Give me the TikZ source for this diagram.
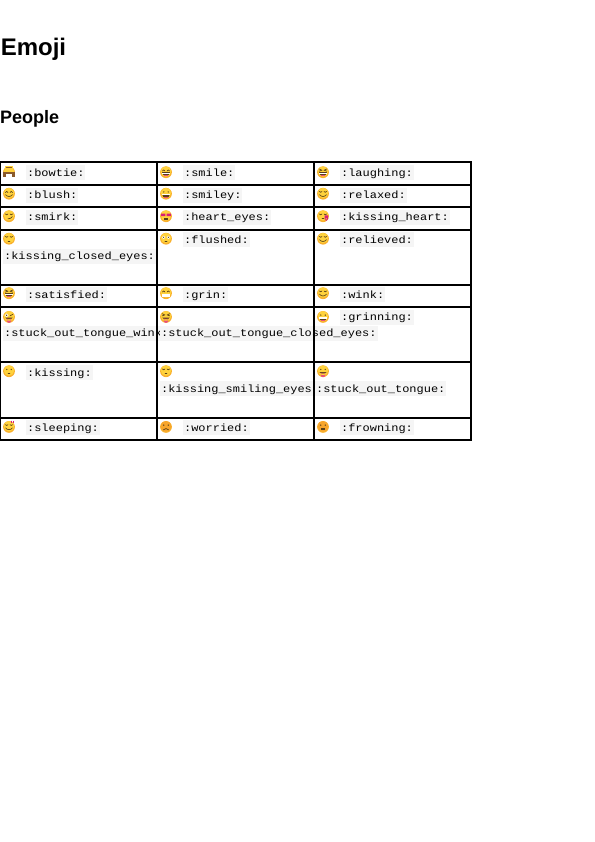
\documentclass[tikz,border=0pt]{standalone}
\usepackage{fontspec}
\setmainfont{Liberation Sans}
\newfontfamily\codefont[FakeStretch=1.14]{Liberation Mono}
\definecolor{codebg}{HTML}{F5F5F5}
\definecolor{faceY}{HTML}{FFD23C}
\definecolor{faceO}{HTML}{F9B02C}
\definecolor{faceD}{HTML}{F7A52B}
\definecolor{ink}{HTML}{5A4018}
\definecolor{tng}{HTML}{E8507A}
\definecolor{hrt}{HTML}{D81E78}
\definecolor{brn}{HTML}{8A5A2B}
\tikzset{
  x=1bp,y=-1bp,
  gridline/.style={line width=1.7bp,black,line cap=rect},
  code/.style={anchor=west,fill=codebg,inner xsep=0.9bp,inner ysep=0pt,text height=11bp,text depth=4bp,font=\codefont\fontsize{10.5bp}{12bp}\selectfont,text=black},
  h1/.style={anchor=base west,inner sep=0pt,font=\bfseries\fontsize{24bp}{28bp}\selectfont},
  h2/.style={anchor=base west,inner sep=0pt,font=\bfseries\fontsize{18bp}{21bp}\selectfont},
  feat/.style={ink,line width=0.65bp,line cap=round},
}
% face base and features, all in local pixels round the centre
\newcommand{\emo}[4][faceY]{\begin{scope}[shift={(#2,#3)}]
  \fill[faceO] (0,0.2) circle (5.9);
  \fill[#1] (0,-0.5) circle (5.2);
  #4
\end{scope}}
\newcommand{\arceyes}{\draw[feat] (-3.6,-1) .. controls (-2.8,-2.4) and (-1.8,-2.4) .. (-1,-1);
  \draw[feat] (1,-1) .. controls (1.8,-2.4) and (2.8,-2.4) .. (3.6,-1);}
\newcommand{\downeyes}{\draw[feat] (-3.6,-2) .. controls (-2.8,-1) and (-1.8,-1) .. (-1,-2);
  \draw[feat] (1,-2) .. controls (1.8,-1) and (2.8,-1) .. (3.6,-2);}
\newcommand{\doteyes}{\fill[ink] (-2.2,-1.6) circle (0.7) (2.2,-1.6) circle (0.7);}
\newcommand{\squeeze}{\draw[feat] (-3.8,-3) -- (-1.2,-1.8) -- (-3.8,-0.8);
  \draw[feat] (3.8,-3) -- (1.2,-1.8) -- (3.8,-0.8);}
\newcommand{\openm}{\fill[ink] (-4.4,0.4) -- (4.4,0.4) .. controls (4.4,5) and (-4.4,5) .. (-4.4,0.4) -- cycle;
  \fill[white] (-3.9,0.6) rectangle (3.9,1.8);\fill[tng] (-1.8,3) rectangle (1.8,3.6);}
\newcommand{\smilem}{\draw[feat] (-3.4,1.2) .. controls (-1.6,3.6) and (1.6,3.6) .. (3.4,1.2);}
\newcommand{\smallm}{\draw[feat] (-0.9,2.4) -- (0.9,2.4);}
\newcommand{\tonguem}{\fill[ink] (-3.6,1) -- (3.6,1) .. controls (3,3) and (-3,3) .. (-3.6,1) -- cycle;
  \fill[tng] (-2.2,1.8) rectangle (2.2,4) (0,4) circle (2.2);}
\begin{document}
\begin{tikzpicture}
\useasboundingbox (0,0) rectangle (595,842);
\node[h1] (title) at (0.6,55.8) {Emoji};
\node[h2] (people) at (0,123.3) {People};
% row 1
\emo{9}{172}{\fill[faceY] (-3.6,-6) rectangle (3.6,-1);\fill[brn] (-3,-5.2) rectangle (3,-4.4);
  \fill[brn] (-5.8,0) rectangle (5.8,2);\fill[white] (-6.2,2) rectangle (6.2,6.5);\fill[brn] (-5.8,2) rectangle (-3.4,4.6);\fill[brn] (3.4,2) rectangle (5.8,4.6);}
\node[code] (c11) at (26,172.5) {:bowtie:};
\emo{166}{172}{\arceyes\openm}
\node[code] (c12) at (183,172.5) {:smile:};
\emo{323}{172}{\squeeze\openm}
\node[code] (c13) at (340,172.5) {:laughing:};
% row 2
\emo{9}{193.5}{\arceyes\smilem}
\node[code] (c21) at (26,195) {:blush:};
\emo{166}{193.5}{\doteyes\openm}
\node[code] (c22) at (183,195) {:smiley:};
\emo{323}{193.5}{\downeyes\smilem}
\node[code] (c23) at (340,195) {:relaxed:};
% row 3
\emo{9}{216}{\downeyes\draw[feat] (-1,2.8) .. controls (1,2.8) and (2.6,2) .. (3.4,0.6);}
\node[code] (c31) at (26,217) {:smirk:};
\emo{166}{216}{\fill[hrt] (-4.9,-2.4) rectangle (-0.7,0.2) (0.7,-2.4) rectangle (4.9,0.2);\fill[ink] (-2.4,1.6) rectangle (2.4,4);}
\node[code] (c32) at (183,217) {:heart\_eyes:};
\emo{323}{216}{\downeyes\smallm\fill[hrt] (1.6,-0.6) rectangle (5,3.4) (3.3,3.4) circle (1.5);}
\node[code] (c33) at (340,217) {:kissing\_heart:};
% row 4
\emo{9}{238.5}{\downeyes\smallm}
\emo{166}{238.5}{\fill[white] (-2.4,-1.2) circle (1.6) (2.4,-1.2) circle (1.6);\fill[ink] (-2.4,-1.2) circle (0.7) (2.4,-1.2) circle (0.7);\draw[feat] (-1,3) -- (1,3);}
\node[code] (c42) at (183,239.5) {:flushed:};
\emo{323}{238.5}{\downeyes\smilem}
\node[code] (c43) at (340,239.5) {:relieved:};
\node[code] (c44) at (3,256) {:kissing\_closed\_eyes:};
% row 5
\emo{9}{293}{\squeeze\openm}
\node[code] (c51) at (26,294.5) {:satisfied:};
\emo{166}{293}{\arceyes\fill[ink] (-4.2,0.8) rectangle (4.2,4);\fill[white] (-3.8,1.1) rectangle (3.8,3.7);}
\node[code] (c52) at (183,294.5) {:grin:};
\emo{323}{293}{\downeyes\smilem}
\node[code] (c53) at (340,294.5) {:wink:};
% row 6
\emo{9}{316.7}{\fill[white] (-2.4,-1.4) circle (1.9);\fill[ink] (-2.4,-1.4) circle (0.8);\draw[feat] (1,-0.8) -- (3.8,-2.4);\tonguem}
\node[code] (c61) at (3,333) {:stuck\_out\_tongue\_wink};
\emo{166}{316.7}{\squeeze\tonguem}
\node[code] (c62) at (160,333) {:stuck\_out\_tongue\_closed\_eyes:};
\emo{323}{316.7}{\doteyes\openm}
\node[code] (c63) at (340,317) {:grinning:};
% row 7
\emo{9}{371}{\doteyes\smallm}
\node[code] (c71) at (26,372.5) {:kissing:};
\emo{166}{371}{\downeyes\smallm}
\node[code] (c72) at (160,388.5) {:kissing\_smiling\_eyes:};
\emo{323}{371}{\doteyes\tonguem}
\node[code] (c73) at (315,388.5) {:stuck\_out\_tongue:};
% row 8
\emo{9}{426.7}{\downeyes\smilem\draw[hrt,line width=0.7bp] (2.5,-6) -- (2.5,-3.5) (4.4,-6) -- (4.4,-3.5);}
\node[code] (c81) at (26,427.5) {:sleeping:};
\emo[faceD]{166}{426.7}{\doteyes\draw[feat] (-2.6,3.2) .. controls (-1.2,1.4) and (1.2,1.4) .. (2.6,3.2);}
\node[code] (c82) at (183,427.5) {:worried:};
\emo[faceD]{323}{426.7}{\doteyes\fill[ink] (-1.8,1) rectangle (1.8,3.6);}
\node[code] (c83) at (340,427.5) {:frowning:};
% grid
\foreach \yy in {161.7,185,206.7,229.7,285,306.7,361.7,417.7,439.7}
  \draw[gridline] (0.5,\yy) -- (470.7,\yy);
\foreach \xx in {0.5,156.7,313.7,470.7}
  \draw[gridline] (\xx,161.7) -- (\xx,439.7);
\end{tikzpicture}
\end{document}
